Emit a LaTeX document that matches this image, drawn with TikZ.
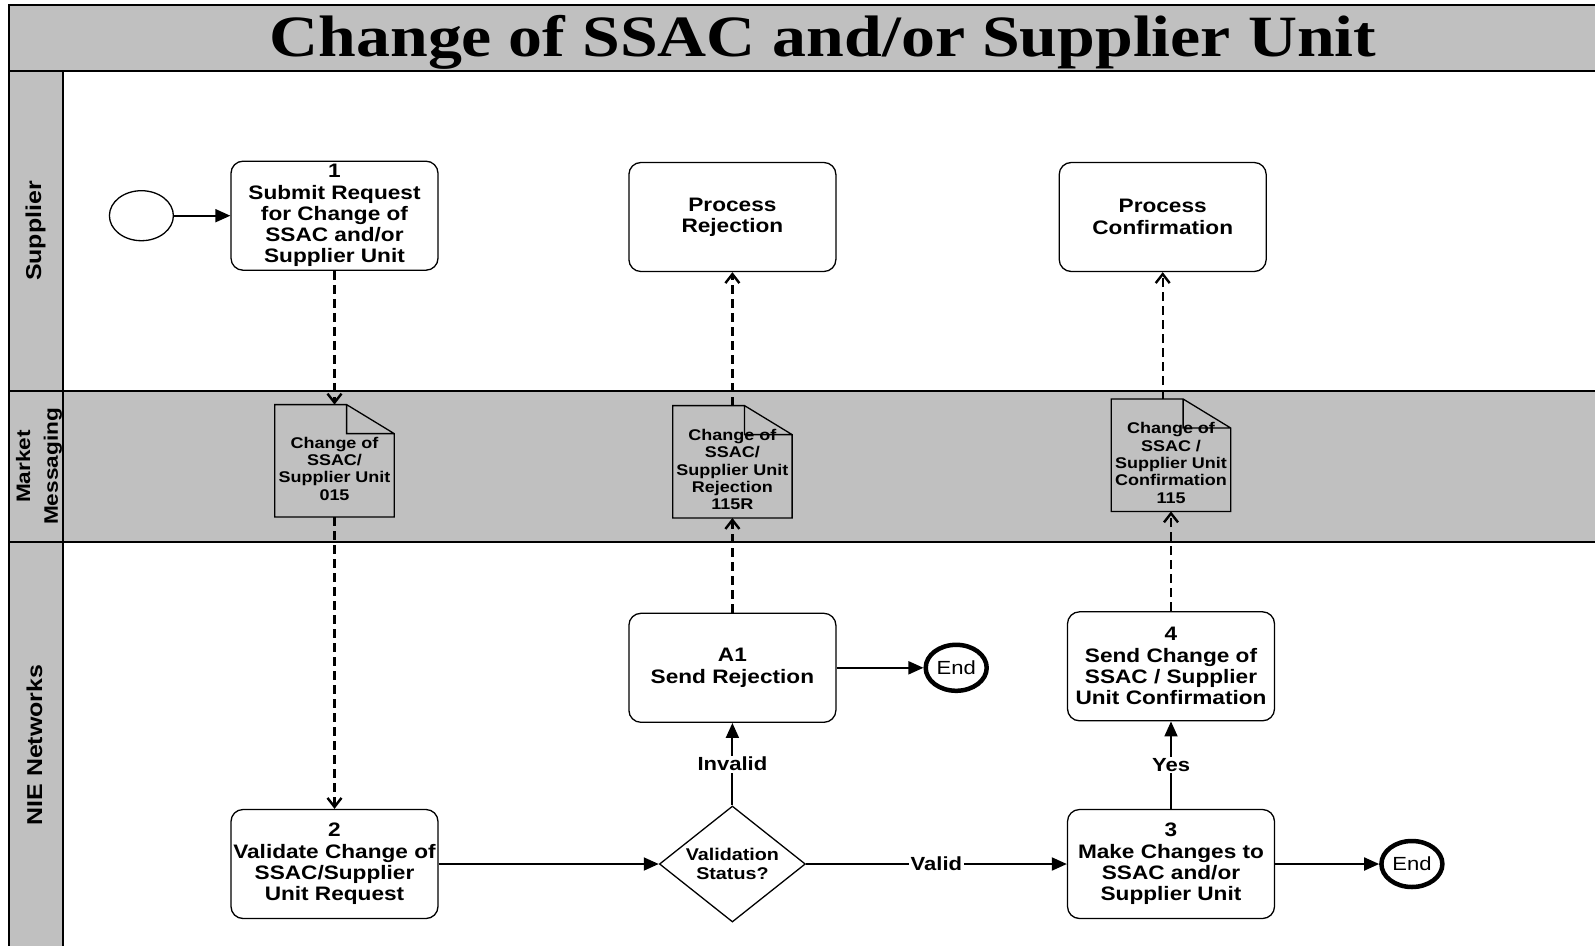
\documentclass[tikz,border=0pt]{standalone}
\usepackage{fontspec}
\setmainfont{Liberation Sans}[FakeStretch=1.16]
\newfontfamily\serifhead{Liberation Serif}[FakeStretch=1.16]
\usetikzlibrary{shapes.geometric}
\usetikzlibrary{arrows.meta}
\definecolor{lanegrey}{RGB}{192,192,192}

\begin{document}
\begin{tikzpicture}[x=1pt,y=-1pt,
	task/.style={draw,rounded corners=12pt,line width=1.3pt,minimum width=207pt,
	minimum height=109pt,inner sep=1pt,align=center,font=\fontsize{19.5}{21.3}\selectfont\bfseries},
	doc/.style={minimum width=119pt,minimum height=112pt,inner sep=0pt,
	font=\fontsize{15.5}{17.3}\selectfont\bfseries},
	gate/.style={draw,diamond,shape aspect=1.26,minimum width=146pt,minimum height=116pt,
	inner sep=0pt,line width=1.3pt,align=center,font=\fontsize{17}{18.6}\selectfont\bfseries},
	startev/.style={draw,ellipse,minimum width=64pt,minimum height=50pt,line width=1.3pt},
	endev/.style={draw,ellipse,minimum width=61pt,minimum height=46pt,inner sep=0pt,
	line width=4.5pt,font=\fontsize{19}{21}\selectfont},
	lane/.style={rotate=90,align=center,font=\fontsize{21.5}{24}\selectfont\bfseries},
	lbl/.style={fill=white,inner sep=1.5pt,font=\fontsize{19}{21}\selectfont\bfseries},
	flow/.style={line width=1.9pt,-{Triangle[length=15pt,width=13pt]}},
	msg/.style={line width=2.4pt,dash pattern=on 9pt off 5pt,-{Straight Barb[length=9pt,width=14pt]}}]
\useasboundingbox (0,0) rectangle (1595,945);
\fill[lanegrey] (9,5) rectangle (1596,71);
\fill[lanegrey] (9,71) rectangle (63,946);
\fill[lanegrey] (63,391) rectangle (1596,542);
\draw[line width=1.5pt] (1596,5) -- (9,5) -- (9,946);
\draw[line width=1.5pt] (9,71) -- (1596,71);
\draw[line width=1.3pt] (9,391) -- (1596,391) (9,542) -- (1596,542) (63,71) -- (63,946);

\node (t) [anchor=base,font=\serifhead\bfseries\fontsize{58.5}{60}\selectfont] at (823,56.5)
	{Change of SSAC and/or Supplier Unit};
\node[lane] (l1) at (35.5,231) {Supplier};
\node[lane,font=\fontsize{19.5}{28}\selectfont\bfseries] (l2) at (39,466.5) {Market\\Messaging};
\node[lane] (l3) at (34.5,745) {NIE Networks};

\node[startev] (0) at (141.4,215.7) {};
\node[task] (1) at (334.5,215.7) {1\\Submit Request\\for Change of\\SSAC and/or\\Supplier Unit};
\node[task] (2) at (732.4,217) {Process\\Rejection};
\node[task] (3) at (1162.7,217) {Process\\Confirmation};
\node[doc] (4) at (334.5,460.8)
	{\raisebox{-13.4pt}[0pt][0pt]{\begin{tabular}{@{}c@{}}Change of\\SSAC/\\Supplier Unit\\015\end{tabular}}};
\node[doc] (5) at (732.4,461.8)
	{\raisebox{-13.4pt}[0pt][0pt]{\begin{tabular}{@{}c@{}}Change of\\SSAC/\\Supplier Unit\\Rejection\\115R\end{tabular}}};
\node[doc] (6) at (1171,455.2)
	{\raisebox{-13.4pt}[0pt][0pt]{\begin{tabular}{@{}c@{}}Change of\\SSAC /\\Supplier Unit\\Confirmation\\115\end{tabular}}};
\node[task] (7) at (732.4,667.8) {A1\\Send Rejection};
\node[endev] (8) at (956.2,667.8) {End};
\node[task] (9) at (1171,666.3) {4\\Send Change of\\SSAC / Supplier\\Unit Confirmation};
\node[task] (10) at (334.5,864) {2\\Validate Change of\\SSAC/Supplier\\Unit Request};
\node[gate] (11) at (732.4,864) {Validation\\Status?};
\node[task] (12) at (1171,864) {3\\Make Changes to\\SSAC and/or\\Supplier Unit};
\node[endev] (13) at (1411.9,864) {End};

\foreach \d in {4,5,6}
	\draw[line width=1.3pt] (\d.south west) -- (\d.north west) -- ([xshift=-47.6pt]\d.north east)
		-- ([yshift=-29pt]\d.north east) -- (\d.south east) -- cycle
		([xshift=-47.6pt]\d.north east) |- ([yshift=-29pt]\d.north east);

\draw[flow] (0) to (1);
\draw[msg] (1) to (4);
\draw[msg] (4) to (10);
\draw[flow] (10) to (11);
\draw[flow] (11) to node[lbl] {Invalid} (7);
\draw[flow] (11) to node[lbl] {Valid} (12);
\draw[flow] (7) to (8);
\draw[msg] (7) to (5);
\draw[msg] (5) to (2);
\draw[flow] (12) to node[lbl] {Yes} (9);
\draw[flow] (12) to (13);
\draw[msg] (9) to (6);
\draw[msg] (6.north -| 3.south) to (3);
\end{tikzpicture}
\end{document}
